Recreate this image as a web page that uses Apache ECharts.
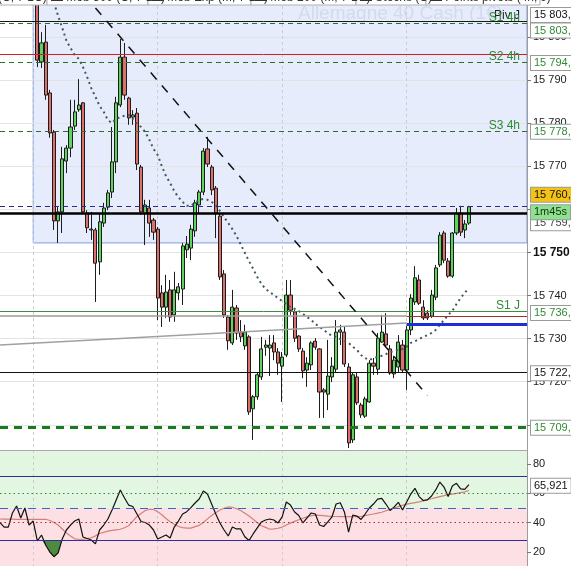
<!DOCTYPE html>
<html><head><meta charset="utf-8">
<script src="https://cdn.jsdelivr.net/npm/echarts@6/dist/echarts.min.js"></script>
<style>html,body{margin:0;padding:0;background:#fff;overflow:hidden}#c{width:571px;height:566px}</style>
</head><body><div id="c"></div>
<script>
// ---------------- data ----------------
const totalSlots = 128;      // category slots across the plot
const leadSlots = 9;         // empty slots before the first visible candle

const openPx = [
 15812.0,15794.2,15798.8,15787.0,15777.9,15757.3,15759.4,15771.2,15774.2,15779.3,
 15783.1,15784.7,15759.1,15755.4,15755.2,15747.8,15756.8,15760.5,15764.0,15771.0,
 15784.2,15795.3,15785.8,15781.4,15782.3,15769.8,15759.1,15760.3,15757.5,15755.4,
 15740.6,15737.3,15741.3,15735.5,15740.6,15741.5,15750.6,15751.0,15755.0,15761.0,
 15764.0,15774.0,15769.8,15764.9,15758.4,15745.0,15735.0,15729.0,15737.1,15731.5,
 15728.3,15730.4,15713.7,15716.5,15721.1,15728.0,15727.8,15729.0,15726.9,15723.6,
 15726.2,15740.1,15736.2,15730.6,15727.1,15722.7,15723.9,15729.4,15727.6,15718.1,
 15717.1,15721.1,15722.9,15731.5,15731.5,15723.4,15706.5,15721.1,15714.6,15712.0,
 15715.3,15724.3,15722.9,15729.2,15731.1,15727.6,15721.8,15723.4,15728.5,15722.7,
 15732.0,15738.5,15743.6,15737.3,15735.9,15735.2,15739.6,15747.1,15754.5,15748.0,
 15744.5,15754.5,15759.1,15755.2,15756.8];
const closePx = [
 15794.6,15798.6,15786.5,15777.7,15757.3,15759.4,15771.7,15774.2,15779.1,15782.6,
 15784.2,15759.4,15755.7,15755.2,15747.5,15757.1,15760.3,15763.8,15771.0,15784.7,
 15795.3,15786.5,15781.2,15781.9,15770.5,15759.4,15761.0,15756.8,15754.7,15739.4,
 15737.3,15740.8,15735.0,15741.3,15742.0,15751.5,15751.9,15755.4,15761.5,15764.0,
 15773.5,15770.5,15764.5,15759.1,15744.3,15735.5,15729.5,15737.3,15731.3,15730.4,
 15731.5,15713.0,15716.5,15721.6,15727.6,15728.5,15728.5,15726.9,15724.3,15725.7,
 15740.1,15736.6,15730.1,15727.6,15722.5,15724.3,15729.0,15728.0,15717.6,15717.6,
 15721.3,15723.6,15731.5,15732.0,15724.1,15705.8,15721.6,15715.1,15712.3,15716.0,
 15724.3,15723.6,15730.1,15731.5,15728.5,15722.0,15725.0,15729.2,15722.7,15732.0,
 15739.4,15744.1,15738.2,15734.8,15734.8,15740.1,15746.4,15754.0,15748.2,15744.5,
 15754.5,15759.1,15754.7,15756.6,15760.6];
const lowPx = [
 15793.0,15792.8,15785.4,15776.6,15755.2,15752.2,15754.5,15768.4,15772.1,15778.4,
 15782.6,15758.9,15754.5,15752.9,15738.5,15744.8,15755.9,15759.8,15762.6,15768.4,
 15783.7,15785.4,15779.6,15779.6,15769.1,15758.7,15751.7,15753.6,15752.9,15734.3,
 15732.7,15734.8,15733.9,15733.9,15738.9,15737.8,15748.7,15748.2,15753.6,15759.1,
 15763.3,15769.8,15763.3,15753.3,15743.6,15734.8,15727.4,15728.5,15729.7,15729.2,
 15727.4,15712.3,15706.5,15715.8,15720.4,15726.0,15721.3,15725.0,15721.6,15715.3,
 15725.7,15735.5,15729.2,15726.9,15720.8,15718.8,15722.7,15727.4,15711.6,15711.6,
 15713.4,15719.9,15722.2,15728.5,15723.4,15704.6,15705.8,15714.6,15711.6,15711.6,
 15715.1,15721.6,15721.6,15729.0,15728.0,15721.6,15720.8,15722.2,15722.0,15718.1,
 15730.8,15737.8,15737.8,15734.3,15734.3,15734.8,15738.9,15746.6,15747.5,15744.1,
 15744.1,15754.0,15753.8,15753.3,15756.4];
const highPx = [
 15813.2,15801.1,15802.8,15787.7,15778.4,15760.5,15774.5,15774.9,15785.4,15785.4,
 15790.2,15784.9,15759.8,15759.4,15755.7,15759.1,15761.5,15764.5,15779.1,15786.1,
 15799.5,15798.6,15786.1,15783.0,15783.5,15770.3,15762.2,15762.2,15758.0,15755.9,
 15742.4,15744.8,15743.6,15745.5,15742.9,15752.2,15753.8,15756.4,15762.2,15764.5,
 15774.2,15776.8,15770.3,15765.4,15759.1,15745.9,15735.5,15741.3,15737.8,15734.3,
 15733.2,15730.8,15716.9,15722.2,15730.4,15729.7,15730.8,15730.8,15727.8,15726.9,
 15743.6,15743.6,15736.6,15730.8,15727.8,15725.7,15729.4,15730.1,15727.8,15718.5,
 15729.7,15725.7,15734.3,15733.2,15732.7,15724.3,15722.2,15722.0,15715.1,15716.5,
 15725.0,15725.5,15731.3,15735.5,15735.9,15728.5,15726.0,15730.8,15729.7,15732.9,
 15740.3,15746.8,15744.8,15738.9,15736.6,15741.3,15747.1,15754.7,15755.0,15748.7,
 15754.7,15760.3,15760.8,15757.5,15760.8];

// dotted moving average, starting at candle index 3
const maStartCandle = 3;
const maDotted = [
 15810.4,15807.9,15804.9,15802.1,15799.1,15797.4,15795.8,15794.9,15793.0,15790.7,
 15788.1,15786.1,15784.0,15782.6,15780.7,15780.0,15781.0,15781.4,15781.7,15781.9,
 15781.0,15779.8,15779.1,15777.9,15776.1,15774.0,15772.6,15770.0,15767.7,15766.1,
 15764.2,15762.8,15761.7,15760.8,15760.8,15761.5,15762.2,15762.4,15762.2,15761.7,
 15761.0,15759.6,15758.2,15756.8,15755.4,15753.8,15751.9,15749.9,15748.0,15746.2,
 15744.3,15742.7,15741.5,15740.8,15740.1,15739.4,15738.7,15738.0,15737.3,15736.9,
 15736.4,15735.7,15735.0,15734.3,15733.4,15732.7,15732.0,15731.3,15730.6,15730.4,
 15729.9,15729.4,15729.0,15728.1,15727.4,15726.2,15725.5,15725.0,15725.5,15725.7,
 15726.0,15726.4,15726.9,15727.1,15727.4,15727.6,15728.1,15729.0,15729.4,15729.9,
 15730.4,15730.8,15731.3,15732.0,15733.2,15734.3,15735.5,15736.4,15738.0,15739.4,
 15740.6,15741.7];

// RSI (one value per slot, from slot 0)
const rsiVals = [
 40.0,37.0,37.0,46.6,51.4,43.2,50.0,38.4,41.1,
 27.5,31.6,24.8,20.0,16.8,19.3,28.9,35.0,38.4,41.1,
 42.5,30.2,29.2,28.2,25.5,35.0,38.4,42.5,48.6,55.5,
 62.3,56.8,52.0,51.0,45.9,40.8,40.1,38.4,35.0,28.9,
 30.2,31.6,29.5,37.0,41.1,45.9,47.5,50.3,53.4,56.1,
 61.6,59.5,52.7,45.9,39.8,35.0,30.9,37.0,35.7,35.7,
 30.4,27.8,32.3,36.4,40.5,41.8,42.5,41.8,39.8,43.9,
 54.1,52.0,47.3,44.9,39.8,43.2,46.6,45.9,38.4,37.4,
 40.5,43.9,52.7,53.6,47.3,33.6,45.2,44.5,42.2,45.9,
 50.0,52.7,56.1,56.6,52.7,48.3,50.7,53.9,48.6,54.1,
 59.5,63.4,57.8,55.1,55.5,58.2,62.3,67.7,64.3,57.8,
 65.0,66.8,63.0,62.7,65.921];
const rsiMA = [
 42.5,42.4,42.4,42.4,42.3,42.3,42.3,42.3,42.3,
 42.3,42.3,42.3,41.5,40.1,38.4,35.7,33.0,30.9,29.0,
 28.7,28.7,29.1,29.7,31.0,32.6,33.4,34.2,34.7,35.1,
 35.5,36.5,37.9,41.1,44.2,46.3,48.3,49.0,49.0,47.4,
 45.4,42.8,40.6,38.9,37.4,36.6,36.3,36.3,37.3,38.2,
 40.1,42.6,44.9,46.8,48.6,49.8,50.7,50.5,49.5,48.3,
 46.4,44.5,42.3,39.9,37.9,36.8,35.5,35.8,36.2,37.0,
 38.4,39.7,40.9,42.0,43.0,43.9,44.8,45.2,45.0,44.8,
 44.5,44.3,44.2,44.1,44.1,44.1,44.1,44.1,44.2,44.8,
 45.4,45.9,46.5,47.1,48.1,49.1,50.0,50.9,51.8,52.7,
 53.2,53.7,54.2,54.9,55.7,56.3,57.1,57.8,58.4,59.1,
 59.5,60.0,60.5,61.0,61.9];
// oversold fill (RSI below lower band), slots 10..15
const rsiFillStartSlot = 10;
const rsiFill = [28.2, 24.8, 20.0, 16.8, 19.3, 28.2];

// axes
const priceMin = 15704.15, priceMax = 15808.56;
const rsiMin = 10.45, rsiMax = 89.55;
const priceTicks = [15720, 15730, 15740, 15750, 15770, 15780, 15790, 15800];
const boldTick = 15750;
const rsiTicks = [20, 40, 60, 80];
const vGridSlots = [8, 38, 68, 98];

// levels
const pivotNames  = ['Piv J', 'S1 4h', 'S2 4h', 'S3 4h', 'S1 J'];
const pivotPrices = [15803.6, 15803.1, 15794.2, 15778.1, 15736.3];
const redLevel = 15796.0;
const lastPrice = 15760.6;
const blackLevel = 15759.1;
const supportLevel = 15722.1;
const lowLevel = 15709.4;
const zoneStartSlot = 8, zoneLow = 15752.2;
const trendSlots = [23, 103], trendPrices = [15806.7, 15716.8];
const grayDiagSlots = [0, 98], grayDiagPrices = [15728.5, 15733.6];
const grayHorizPrice = 15735.2, raySlot = 98;
const blueRayPrice = 15733.4;
const timerText = '1m45s';
const rsiUpper = 71.8, rsiLower = 28.2, rsiMid = 50, rsiHi = 60, rsiLo = 40;
const instrument = 'Allemagne 40 Cash (1€)';
const legendTexts = ['(C, 7 1C)', '▬ Mob 500 (C, 7 1C)', '▬ Mob Exp (M, 7 1C)', '▬ Mob 200 (M, 7 1C)', '▬ Stochs (C)', '▬ Points pivots (4h, J)'];

// ---------------- build ----------------
const FONT = '"Liberation Sans", Arial, sans-serif';
const cats = Array.from({length: totalSlots}, (_, i) => String(i));
const pad = n => Array(n).fill('-');
const candleData = pad(leadSlots).concat(openPx.map((o, i) => [o, closePx[i], lowPx[i], highPx[i]]));
const maData = pad(leadSlots + maStartCandle).concat(maDotted);
const fillData = pad(rsiFillStartSlot).concat(rsiFill);

function fmtInt(v) { const s = String(Math.round(v)); return s.slice(0, s.length - 3) + ' ' + s.slice(-3); }
function fmtPrice(v) { const s = v.toFixed(1).split('.'); return fmtInt(+s[0]) + ',' + s[1]; }

const GREEN = '#2f8a35';
const pivotStyles = [
  {color: '#1a1a1a', type: 'solid', width: 1},
  {color: '#2c6e2c', type: [5, 4], width: 1},
  {color: '#2c6e2c', type: [5, 4], width: 1},
  {color: '#2c6e2c', type: [5, 4], width: 1},
  {color: '#3d8f3d', type: 'solid', width: 1}
];
const pivotColors = ['#222', GREEN, GREEN, GREEN, GREEN];

const mainLines = [];
pivotPrices.forEach((p, i) => mainLines.push({
  yAxis: p, lineStyle: pivotStyles[i],
  label: {show: true, formatter: pivotNames[i], position: 'insideEndTop', distance: [7, -0.5],
          color: pivotColors[i], fontSize: 12, fontFamily: FONT}
}));
mainLines.push({yAxis: redLevel, lineStyle: {color: '#cc2222', width: 1, type: 'solid'}});
mainLines.push({yAxis: lastPrice, lineStyle: {color: '#2b2b8a', width: 1, type: [5, 4]}});
mainLines.push({yAxis: blackLevel, lineStyle: {color: '#000', width: 2.5, type: 'solid'}});
mainLines.push({yAxis: supportLevel, lineStyle: {color: '#111', width: 1, type: 'solid'}});
mainLines.push({yAxis: lowLevel, lineStyle: {color: '#1b7a1b', width: 3, type: [8, 6]}});
mainLines.push([{coord: [grayDiagSlots[0], grayHorizPrice], lineStyle: {color: '#9a9a9a', width: 1.5, type: 'solid'}}, {coord: [raySlot, grayHorizPrice]}]);
mainLines.push([{coord: [raySlot, grayHorizPrice], lineStyle: {color: '#a03030', width: 1, type: 'solid'}}, {coord: [totalSlots - 1, grayHorizPrice]}]);
mainLines.push([{coord: [grayDiagSlots[0], grayDiagPrices[0]], lineStyle: {color: '#a0a0a0', width: 1.5, type: 'solid'}}, {coord: [grayDiagSlots[1], grayDiagPrices[1]]}]);
mainLines.push([{coord: [raySlot, blueRayPrice], lineStyle: {color: '#1f2fd6', width: 3, type: 'solid'}}, {coord: [totalSlots - 1, blueRayPrice]}]);
mainLines.push([{coord: [trendSlots[0], trendPrices[0]], lineStyle: {color: '#111', width: 1.5, type: [9, 8]}}, {coord: [trendSlots[1], trendPrices[1]]}]);

const rsiLines = [
  {yAxis: rsiUpper, lineStyle: {color: '#2d2d9c', width: 1.2, type: 'solid'}},
  {yAxis: rsiLower, lineStyle: {color: '#2d2d9c', width: 1.2, type: 'solid'}},
  {yAxis: rsiMid, lineStyle: {color: '#3a62c8', width: 1.2, type: [8, 6]}},
  {yAxis: rsiHi, lineStyle: {color: '#2e8b2e', width: 1.2, type: [1.5, 3]}},
  {yAxis: rsiLo, lineStyle: {color: '#a33030', width: 1.2, type: [1.5, 3]}}
];

const splitV = {show: true, interval: (i) => vGridSlots.includes(i), lineStyle: {color: '#cdcdcd', type: [3, 3], width: 1}};

const option = {
  animation: false,
  backgroundColor: '#fff',
  textStyle: {fontFamily: FONT},
  grid: [
    {left: 0, right: 44, top: 0, height: 450, containLabel: false, outerBoundsMode: 'none'},
    {left: 0, right: 44, top: 450, height: 116, containLabel: false, outerBoundsMode: 'none'}
  ],
  xAxis: [
    {type: 'category', gridIndex: 0, data: cats, boundaryGap: false, z: 1.5,
     axisLine: {show: true, onZero: false, lineStyle: {color: '#a9a9a9'}}, axisTick: {show: false},
     axisLabel: {show: false}, splitLine: splitV},
    {type: 'category', gridIndex: 1, data: cats, boundaryGap: false, z: 1.5,
     axisLine: {show: false}, axisTick: {show: false}, axisLabel: {show: false}, splitLine: splitV}
  ],
  yAxis: [
    {type: 'value', gridIndex: 0, position: 'right', min: priceMin, max: priceMax, splitNumber: 10, z: 1.5,
     axisLine: {show: true, lineStyle: {color: '#9c9c9c'}},
     axisTick: {show: true, length: 4, lineStyle: {color: '#777'}},
     axisLabel: {show: true, margin: 6, color: '#222', fontSize: 11, fontFamily: FONT,
       showMinLabel: false, showMaxLabel: false,
       formatter: (v) => { const r = Math.round(v); if (Math.abs(v - r) > 1e-6 || !priceTicks.includes(r)) return '';
                           return r === boldTick ? '{b|' + fmtInt(r) + '}' : fmtInt(r); },
       rich: {b: {fontWeight: 'bold', fontSize: 12, color: '#111', fontFamily: FONT}}},
     splitLine: {show: true, lineStyle: {color: '#e3e3e3', width: 1}}},
    {type: 'value', gridIndex: 1, position: 'right', min: rsiMin, max: rsiMax, splitNumber: 4, z: 1.5,
     axisLine: {show: true, lineStyle: {color: '#9c9c9c'}},
     axisTick: {show: true, length: 4, lineStyle: {color: '#777'}},
     axisLabel: {show: true, margin: 6, color: '#222', fontSize: 11, fontFamily: FONT,
       showMinLabel: false, showMaxLabel: false,
       formatter: (v) => { const r = Math.round(v); return (Math.abs(v - r) < 1e-6 && rsiTicks.includes(r)) ? String(r) : ''; }},
     splitLine: {show: false}}
  ],
  series: [
    {type: 'candlestick', name: 'price', xAxisIndex: 0, yAxisIndex: 0, data: candleData, barWidth: 3.6, clip: true, z: 2,
     itemStyle: {color: '#5ed35e', color0: '#dc706c', borderColor: '#1c1c1c', borderColor0: '#1c1c1c', borderWidth: 1},
     markArea: {silent: true, label: {show: false},
       itemStyle: {color: 'rgba(172,193,243,0.30)', borderColor: '#7f9fe3', borderWidth: 1},
       data: [[{coord: [zoneStartSlot, zoneLow]}, {coord: [totalSlots - 1, priceMax]}]]},
     markLine: {silent: true, symbol: ['none', 'none'], animation: false, label: {show: false}, data: mainLines}},
    {type: 'line', name: 'ma', xAxisIndex: 0, yAxisIndex: 0, data: maData, symbol: 'none', z: 3, clip: true,
     lineStyle: {color: '#3c5a5a', width: 2, type: [2, 3.5]}},
    {type: 'line', name: 'rsiFill', xAxisIndex: 1, yAxisIndex: 1, data: fillData, symbol: 'none', z: 2,
     lineStyle: {width: 0}, areaStyle: {color: '#4f8b3f', opacity: 1, origin: rsiLower}},
    {type: 'line', name: 'rsiMA', xAxisIndex: 1, yAxisIndex: 1, data: rsiMA, symbol: 'none', z: 3,
     lineStyle: {color: '#d4807a', width: 1.2}},
    {type: 'line', name: 'rsi', xAxisIndex: 1, yAxisIndex: 1, data: rsiVals, symbol: 'none', z: 4,
     lineStyle: {color: '#111', width: 1.2},
     markArea: {silent: true, label: {show: false}, data: [
       [{yAxis: rsiMid, itemStyle: {color: '#e3f6e1'}}, {yAxis: rsiMax}],
       [{yAxis: rsiMin, itemStyle: {color: '#fde0e4'}}, {yAxis: rsiMid}]
     ]},
     markLine: {silent: true, symbol: ['none', 'none'], animation: false, label: {show: false}, data: rsiLines}}
  ]
};

const chart = echarts.init(document.getElementById('c'), null, {renderer: 'canvas'});
chart.setOption(option);

// ---------- overlay texts (positioned through the axes) ----------
const py = v => chart.convertToPixel({yAxisIndex: 0}, v);
const ry = v => chart.convertToPixel({yAxisIndex: 1}, v);
const boxFont = '11px ' + FONT;
function box(text, y, fill, bg, z) {
  return {type: 'text', x: 531, y: y, z: z || 100,
    style: {text: text, font: boxFont, fill: fill, backgroundColor: bg || '#fff', borderColor: '#9a9a9a', borderWidth: 1,
            padding: [2, 3, 1, 3], verticalAlign: 'middle', align: 'left'}};
}
const g = [];
// watermark
g.push({type: 'text', x: 298, y: 14, z: 1, style: {text: instrument, font: '19px ' + FONT, fill: 'rgba(130,140,175,0.18)', verticalAlign: 'middle'}});
// top legend strip (cut by the top edge)
const legendX = [-6, 47, 148, 251, 356, 426, 540];
legendTexts.forEach((t, i) => {
  g.push({type: 'rect', z: 60, shape: {x: legendX[i], y: -12, width: legendX[i + 1] - legendX[i], height: 17}, style: {fill: '#fff', stroke: '#b0b0b0', lineWidth: 1}});
  g.push({type: 'text', z: 61, x: legendX[i] + 4, y: -2, style: {text: t, font: '12px ' + FONT, fill: '#333', verticalAlign: 'middle'}});
});
// price boxes
g.push(box(fmtPrice(pivotPrices[0]), py(pivotPrices[0]) - 6.5, '#111'));
g.push(box(fmtPrice(pivotPrices[1]), py(pivotPrices[1]) + 7, GREEN));
g.push(box(fmtPrice(pivotPrices[2]), py(pivotPrices[2]) + 1, GREEN));
g.push(box(fmtPrice(pivotPrices[3]), py(pivotPrices[3]) + 0.5, GREEN));
g.push(box(fmtPrice(blackLevel), py(blackLevel) + 10, '#444', '#fff', 100));
g.push(box(timerText, py(blackLevel) - 1, '#123312', '#8fe08f', 101));
g.push(box(fmtPrice(lastPrice), py(lastPrice) - 12, '#111', '#f4c214', 102));
g.push(box(fmtPrice(pivotPrices[4]), py(pivotPrices[4]) + 1.5, GREEN));
g.push(box(fmtPrice(supportLevel), py(supportLevel) + 0.5, '#111'));
g.push(box(fmtPrice(lowLevel), py(lowLevel) + 0.5, GREEN));
const lastRsi = rsiVals[rsiVals.length - 1];
g.push(box(lastRsi.toFixed(3).replace('.', ','), ry(lastRsi) + 1, '#111'));
chart.setOption({graphic: g});
</script>
</body></html>
